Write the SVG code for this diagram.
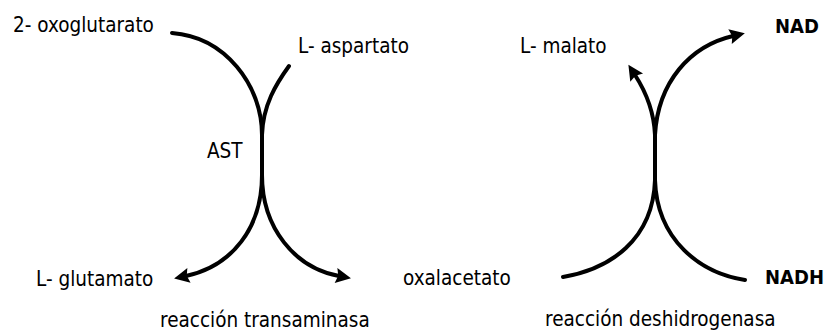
<svg xmlns="http://www.w3.org/2000/svg" width="825" height="333" viewBox="0 0 825 333">
<style>
.t{font-family:"DejaVu Sans Condensed","DejaVu Sans",sans-serif;font-size:20.5px;fill:#000}
.b{font-family:"DejaVu Sans Condensed","DejaVu Sans",sans-serif;font-size:20px;font-weight:bold;fill:#000}
.c{fill:none;stroke:#000;stroke-width:4;stroke-linecap:round}
</style>
<defs>
<marker id="ah" viewBox="0 0 10 10" refX="2" refY="5" markerWidth="5" markerHeight="3.8" orient="auto" markerUnits="strokeWidth">
<path d="M0,0 L10,5 L0,10 L1.5,5 Z" fill="#000"/>
</marker>
</defs>
<rect width="825" height="333" fill="#fff"/>
<g id="connectors">
<path class="c" d="M172,33 C225,37 262,85 262,135 L262,175 C262,228 232,266 186,276" marker-end="url(#ah)"/>
<path class="c" d="M289,66 C276,84 263,105 262,135 L262,175 C262,228 295,268 339,276" marker-end="url(#ah)"/>
<path class="c" d="M655,180 L655,135 C654,112 646,92 635,75" marker-end="url(#ah)"/>
<path class="c" d="M655,180 L655,135 C658,82 690,46 733,36" marker-end="url(#ah)"/>
<path class="c" d="M563,277 C610,269 653,240 655,180"/>
<path class="c" d="M745,280 C700,273 657,240 655,180"/>
</g>
<g id="n-oxoglutarato"><text class="t" x="13" y="32">2- oxoglutarato</text></g>
<g id="n-aspartato"><text class="t" x="298" y="53">L- aspartato</text></g>
<g id="n-ast"><text class="t" x="207" y="158">AST</text></g>
<g id="n-glutamato"><text class="t" x="36" y="286">L- glutamato</text></g>
<g id="n-transaminasa"><text class="t" x="160" y="327">reacción transaminasa</text></g>
<g id="n-malato"><text class="t" x="520" y="53">L- malato</text></g>
<g id="n-nad"><text class="b" x="775" y="33">NAD</text></g>
<g id="n-oxalacetato"><text class="t" x="403" y="285">oxalacetato</text></g>
<g id="n-nadh"><text class="b" x="765" y="284">NADH</text></g>
<g id="n-deshidrogenasa"><text class="t" x="545" y="326">reacción deshidrogenasa</text></g>
</svg>
